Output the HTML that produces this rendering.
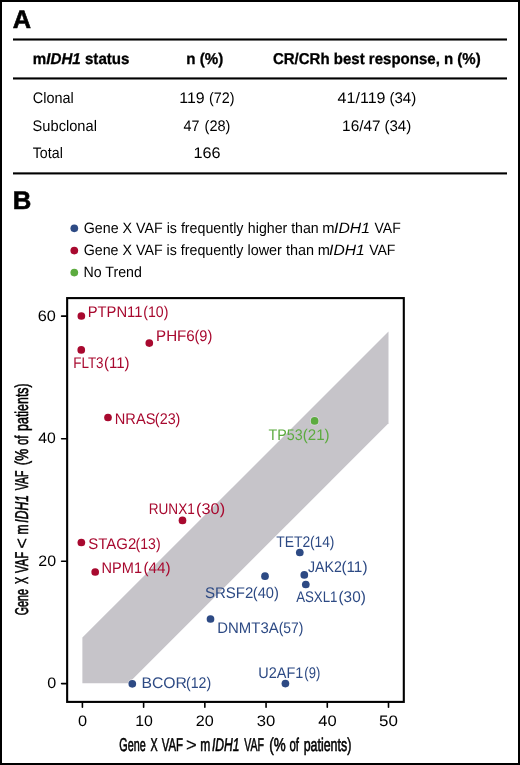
<!DOCTYPE html><html><head><meta charset="utf-8"><style>html,body{margin:0;padding:0;background:#fff}svg{display:block;will-change:transform}text{font-family:"Liberation Sans",sans-serif;text-rendering:geometricPrecision}</style></head><body>
<svg width="520" height="765" viewBox="0 0 520 765">
<rect x="0" y="0" width="520" height="765" fill="#fff"/>
<rect x="1" y="1" width="518" height="763" fill="none" stroke="#000" stroke-width="2"/>
<rect x="13" y="38.45" width="494" height="2.1" fill="#000"/>
<rect x="13" y="77.40" width="494" height="2.1" fill="#000"/>
<rect x="13" y="172.35" width="494" height="2.1" fill="#000"/>
<polygon points="82.4,683.3 82.4,637.5 388.5,331.5 388.5,423.3 128.5,683.3" fill="#c6c4c9"/>
<rect x="67.15" y="298.1" width="336.65" height="403.8" fill="none" stroke="#000" stroke-width="2.1"/>
<line x1="61.6" y1="316.15" x2="66.5" y2="316.15" stroke="#000" stroke-width="1.6" stroke-linecap="round"/>
<line x1="61.6" y1="438.7" x2="66.5" y2="438.7" stroke="#000" stroke-width="1.6" stroke-linecap="round"/>
<line x1="61.6" y1="561.2" x2="66.5" y2="561.2" stroke="#000" stroke-width="1.6" stroke-linecap="round"/>
<line x1="61.6" y1="683.6" x2="66.5" y2="683.6" stroke="#000" stroke-width="1.6" stroke-linecap="round"/>
<line x1="82.40" y1="703" x2="82.40" y2="707.2" stroke="#000" stroke-width="1.6" stroke-linecap="round"/>
<line x1="143.62" y1="703" x2="143.62" y2="707.2" stroke="#000" stroke-width="1.6" stroke-linecap="round"/>
<line x1="204.84" y1="703" x2="204.84" y2="707.2" stroke="#000" stroke-width="1.6" stroke-linecap="round"/>
<line x1="266.06" y1="703" x2="266.06" y2="707.2" stroke="#000" stroke-width="1.6" stroke-linecap="round"/>
<line x1="327.28" y1="703" x2="327.28" y2="707.2" stroke="#000" stroke-width="1.6" stroke-linecap="round"/>
<line x1="388.50" y1="703" x2="388.50" y2="707.2" stroke="#000" stroke-width="1.6" stroke-linecap="round"/>
<circle cx="81.35" cy="316.0" r="4.7" fill="#fff" fill-opacity="0.4"/><circle cx="81.35" cy="316.0" r="3.85" fill="#a8092f"/>
<circle cx="81.25" cy="349.9" r="4.7" fill="#fff" fill-opacity="0.4"/><circle cx="81.25" cy="349.9" r="3.85" fill="#a8092f"/>
<circle cx="149.3" cy="343.1" r="4.7" fill="#fff" fill-opacity="0.4"/><circle cx="149.3" cy="343.1" r="3.85" fill="#a8092f"/>
<circle cx="108.0" cy="417.5" r="4.7" fill="#fff" fill-opacity="0.4"/><circle cx="108.0" cy="417.5" r="3.85" fill="#a8092f"/>
<circle cx="314.6" cy="420.9" r="4.7" fill="#fff" fill-opacity="0.4"/><circle cx="314.6" cy="420.9" r="3.85" fill="#5cab3f"/>
<circle cx="182.5" cy="520.4" r="4.7" fill="#fff" fill-opacity="0.4"/><circle cx="182.5" cy="520.4" r="3.85" fill="#a8092f"/>
<circle cx="81.35" cy="542.5" r="4.7" fill="#fff" fill-opacity="0.4"/><circle cx="81.35" cy="542.5" r="3.85" fill="#a8092f"/>
<circle cx="95.2" cy="572.0" r="4.7" fill="#fff" fill-opacity="0.4"/><circle cx="95.2" cy="572.0" r="3.85" fill="#a8092f"/>
<circle cx="299.8" cy="552.5" r="4.7" fill="#fff" fill-opacity="0.4"/><circle cx="299.8" cy="552.5" r="3.85" fill="#2d4a84"/>
<circle cx="304.3" cy="574.9" r="4.7" fill="#fff" fill-opacity="0.4"/><circle cx="304.3" cy="574.9" r="3.85" fill="#2d4a84"/>
<circle cx="305.8" cy="584.5" r="4.7" fill="#fff" fill-opacity="0.4"/><circle cx="305.8" cy="584.5" r="3.85" fill="#2d4a84"/>
<circle cx="265.0" cy="576.2" r="4.7" fill="#fff" fill-opacity="0.4"/><circle cx="265.0" cy="576.2" r="3.85" fill="#2d4a84"/>
<circle cx="210.5" cy="619.0" r="4.7" fill="#fff" fill-opacity="0.4"/><circle cx="210.5" cy="619.0" r="3.85" fill="#2d4a84"/>
<circle cx="285.4" cy="683.6" r="4.7" fill="#fff" fill-opacity="0.4"/><circle cx="285.4" cy="683.6" r="3.85" fill="#2d4a84"/>
<circle cx="132.3" cy="683.8" r="4.7" fill="#fff" fill-opacity="0.4"/><circle cx="132.3" cy="683.8" r="3.85" fill="#2d4a84"/>
<circle cx="74.3" cy="228.3" r="3.85" fill="#2d4a84"/>
<circle cx="74.3" cy="250.6" r="3.85" fill="#a8092f"/>
<circle cx="74.3" cy="272.6" r="3.85" fill="#5cab3f"/>
<text x="12.85" y="27.80" font-size="25.4" font-weight="700" fill="#000" textLength="18.29" lengthAdjust="spacingAndGlyphs" stroke="#000" stroke-width="0.6">A</text>
<text x="12.88" y="208.90" font-size="25.4" font-weight="700" fill="#000" textLength="18.57" lengthAdjust="spacingAndGlyphs" stroke="#000" stroke-width="0.6">B</text>
<text x="32.84" y="63.80" font-size="15.7" font-weight="700" fill="#000" textLength="96.68" lengthAdjust="spacingAndGlyphs" stroke="#000" stroke-width="0.3">m<tspan font-style="italic">IDH1</tspan> status</text>
<text x="186.34" y="63.80" font-size="15.7" font-weight="700" fill="#000" textLength="36.94" lengthAdjust="spacingAndGlyphs" stroke="#000" stroke-width="0.3">n (%)</text>
<text x="272.92" y="63.80" font-size="15.7" font-weight="700" fill="#000" textLength="207.80" lengthAdjust="spacingAndGlyphs" stroke="#000" stroke-width="0.3">CR/CRh best response, n (%)</text>
<text x="32.79" y="103.20" font-size="15.3" font-weight="400" fill="#000" textLength="40.97" lengthAdjust="spacingAndGlyphs" >Clonal</text>
<text x="32.58" y="130.80" font-size="15.3" font-weight="400" fill="#000" textLength="64.32" lengthAdjust="spacingAndGlyphs" >Subclonal</text>
<text x="32.77" y="158.20" font-size="15.3" font-weight="400" fill="#000" textLength="30.02" lengthAdjust="spacingAndGlyphs" >Total</text>
<text x="179.30" y="102.90" font-size="15.3" font-weight="400" fill="#000" textLength="25.37" lengthAdjust="spacingAndGlyphs" >119</text>
<text x="208.96" y="102.90" font-size="15.3" font-weight="400" fill="#000" textLength="25.53" lengthAdjust="spacingAndGlyphs" >(72)</text>
<text x="183.57" y="130.60" font-size="15.3" font-weight="400" fill="#000" textLength="15.95" lengthAdjust="spacingAndGlyphs" >47</text>
<text x="204.55" y="130.60" font-size="15.3" font-weight="400" fill="#000" textLength="25.86" lengthAdjust="spacingAndGlyphs" >(28)</text>
<text x="193.58" y="158.30" font-size="15.3" font-weight="400" fill="#000" textLength="27.05" lengthAdjust="spacingAndGlyphs" >166</text>
<text x="337.64" y="102.80" font-size="15.3" font-weight="400" fill="#000" textLength="47.85" lengthAdjust="spacingAndGlyphs" >41/119</text>
<text x="389.41" y="102.80" font-size="15.3" font-weight="400" fill="#000" textLength="26.83" lengthAdjust="spacingAndGlyphs" >(34)</text>
<text x="342.14" y="130.70" font-size="15.3" font-weight="400" fill="#000" textLength="38.44" lengthAdjust="spacingAndGlyphs" >16/47</text>
<text x="384.41" y="130.70" font-size="15.3" font-weight="400" fill="#000" textLength="26.83" lengthAdjust="spacingAndGlyphs" >(34)</text>
<text x="83.79" y="232.90" font-size="15.0" font-weight="400" fill="#000" textLength="159.65" lengthAdjust="spacingAndGlyphs" >Gene X VAF is frequently</text>
<text x="247.86" y="232.90" font-size="15.0" font-weight="400" fill="#000" textLength="70.85" lengthAdjust="spacingAndGlyphs" >higher than</text>
<text x="322.32" y="232.90" font-size="15.0" font-weight="400" fill="#000" textLength="12.26" lengthAdjust="spacingAndGlyphs" >m</text>
<text x="334.07" y="232.90" font-size="15.0" font-weight="400" fill="#000" textLength="35.94" lengthAdjust="spacingAndGlyphs" ><tspan font-style="italic">IDH1</tspan></text>
<text x="374.47" y="232.90" font-size="15.0" font-weight="400" fill="#000" textLength="26.26" lengthAdjust="spacingAndGlyphs" >VAF</text>
<text x="83.69" y="254.90" font-size="15.0" font-weight="400" fill="#000" textLength="159.65" lengthAdjust="spacingAndGlyphs" >Gene X VAF is frequently</text>
<text x="247.44" y="254.90" font-size="15.0" font-weight="400" fill="#000" textLength="66.59" lengthAdjust="spacingAndGlyphs" >lower than</text>
<text x="317.83" y="254.90" font-size="15.0" font-weight="400" fill="#000" textLength="12.14" lengthAdjust="spacingAndGlyphs" >m</text>
<text x="329.08" y="254.90" font-size="15.0" font-weight="400" fill="#000" textLength="35.62" lengthAdjust="spacingAndGlyphs" ><tspan font-style="italic">IDH1</tspan></text>
<text x="369.17" y="254.90" font-size="15.0" font-weight="400" fill="#000" textLength="26.26" lengthAdjust="spacingAndGlyphs" >VAF</text>
<text x="83.52" y="277.25" font-size="15.0" font-weight="400" fill="#000" textLength="58.38" lengthAdjust="spacingAndGlyphs" >No Trend</text>
<text x="87.70" y="316.50" font-size="15.4" font-weight="400" fill="#a8092f" textLength="54.75" lengthAdjust="spacingAndGlyphs" >PTPN11</text>
<text x="143.28" y="316.50" font-size="15.4" font-weight="400" fill="#a8092f" textLength="25.12" lengthAdjust="spacingAndGlyphs" >(10)</text>
<text x="156.07" y="341.00" font-size="15.4" font-weight="400" fill="#a8092f" textLength="38.71" lengthAdjust="spacingAndGlyphs" >PHF6</text>
<text x="194.45" y="341.00" font-size="15.4" font-weight="400" fill="#a8092f" textLength="17.86" lengthAdjust="spacingAndGlyphs" >(9)</text>
<text x="73.21" y="368.20" font-size="15.4" font-weight="400" fill="#a8092f" textLength="30.35" lengthAdjust="spacingAndGlyphs" >FLT3</text>
<text x="103.93" y="368.20" font-size="15.4" font-weight="400" fill="#a8092f" textLength="25.53" lengthAdjust="spacingAndGlyphs" >(11)</text>
<text x="114.81" y="423.70" font-size="15.4" font-weight="400" fill="#a8092f" textLength="40.61" lengthAdjust="spacingAndGlyphs" >NRAS</text>
<text x="154.87" y="423.70" font-size="15.4" font-weight="400" fill="#a8092f" textLength="25.55" lengthAdjust="spacingAndGlyphs" >(23)</text>
<text x="268.57" y="439.60" font-size="15.4" font-weight="400" fill="#5cab3f" textLength="34.14" lengthAdjust="spacingAndGlyphs" >TP53</text>
<text x="302.82" y="439.60" font-size="15.4" font-weight="400" fill="#5cab3f" textLength="26.84" lengthAdjust="spacingAndGlyphs" >(21)</text>
<text x="148.70" y="514.40" font-size="15.4" font-weight="400" fill="#a8092f" textLength="46.10" lengthAdjust="spacingAndGlyphs" >RUNX1</text>
<text x="196.14" y="514.40" font-size="15.4" font-weight="400" fill="#a8092f" textLength="28.99" lengthAdjust="spacingAndGlyphs" >(30)</text>
<text x="88.37" y="548.90" font-size="15.4" font-weight="400" fill="#a8092f" textLength="47.93" lengthAdjust="spacingAndGlyphs" >STAG2</text>
<text x="135.59" y="548.90" font-size="15.4" font-weight="400" fill="#a8092f" textLength="25.01" lengthAdjust="spacingAndGlyphs" >(13)</text>
<text x="101.62" y="573.40" font-size="15.4" font-weight="400" fill="#a8092f" textLength="40.40" lengthAdjust="spacingAndGlyphs" >NPM1</text>
<text x="143.41" y="573.40" font-size="15.4" font-weight="400" fill="#a8092f" textLength="27.16" lengthAdjust="spacingAndGlyphs" >(44)</text>
<text x="276.27" y="546.80" font-size="15.4" font-weight="400" fill="#2d4a84" textLength="34.03" lengthAdjust="spacingAndGlyphs" >TET2</text>
<text x="309.91" y="546.80" font-size="15.4" font-weight="400" fill="#2d4a84" textLength="24.48" lengthAdjust="spacingAndGlyphs" >(14)</text>
<text x="307.97" y="571.50" font-size="15.4" font-weight="400" fill="#2d4a84" textLength="33.97" lengthAdjust="spacingAndGlyphs" >JAK2</text>
<text x="341.41" y="571.50" font-size="15.4" font-weight="400" fill="#2d4a84" textLength="26.07" lengthAdjust="spacingAndGlyphs" >(11)</text>
<text x="296.20" y="602.30" font-size="15.4" font-weight="400" fill="#2d4a84" textLength="41.28" lengthAdjust="spacingAndGlyphs" >ASXL1</text>
<text x="338.50" y="602.30" font-size="15.4" font-weight="400" fill="#2d4a84" textLength="27.27" lengthAdjust="spacingAndGlyphs" >(30)</text>
<text x="204.97" y="597.90" font-size="15.4" font-weight="400" fill="#2d4a84" textLength="48.37" lengthAdjust="spacingAndGlyphs" >SRSF2</text>
<text x="252.75" y="597.90" font-size="15.4" font-weight="400" fill="#2d4a84" textLength="26.09" lengthAdjust="spacingAndGlyphs" >(40)</text>
<text x="217.29" y="632.90" font-size="15.4" font-weight="400" fill="#2d4a84" textLength="61.44" lengthAdjust="spacingAndGlyphs" >DNMT3A</text>
<text x="278.70" y="632.90" font-size="15.4" font-weight="400" fill="#2d4a84" textLength="24.69" lengthAdjust="spacingAndGlyphs" >(57)</text>
<text x="258.33" y="677.50" font-size="15.4" font-weight="400" fill="#2d4a84" textLength="44.99" lengthAdjust="spacingAndGlyphs" >U2AF1</text>
<text x="304.35" y="677.50" font-size="15.4" font-weight="400" fill="#2d4a84" textLength="15.95" lengthAdjust="spacingAndGlyphs" >(9)</text>
<text x="141.52" y="687.50" font-size="15.4" font-weight="400" fill="#2d4a84" textLength="45.41" lengthAdjust="spacingAndGlyphs" >BCOR</text>
<text x="185.98" y="687.50" font-size="15.4" font-weight="400" fill="#2d4a84" textLength="25.23" lengthAdjust="spacingAndGlyphs" >(12)</text>
<text x="37.80" y="320.50" font-size="15.2" font-weight="400" fill="#000" textLength="18.11" lengthAdjust="spacingAndGlyphs" >60</text>
<text x="38.34" y="443.20" font-size="15.2" font-weight="400" fill="#000" textLength="17.54" lengthAdjust="spacingAndGlyphs" >40</text>
<text x="38.31" y="565.50" font-size="15.2" font-weight="400" fill="#000" textLength="17.78" lengthAdjust="spacingAndGlyphs" >20</text>
<text x="47.17" y="687.90" font-size="15.2" font-weight="400" fill="#000" textLength="8.98" lengthAdjust="spacingAndGlyphs" >0</text>
<text x="77.96" y="725.80" font-size="15.2" font-weight="400" fill="#000" textLength="9.09" lengthAdjust="spacingAndGlyphs" >0</text>
<text x="135.19" y="725.80" font-size="15.2" font-weight="400" fill="#000" textLength="17.70" lengthAdjust="spacingAndGlyphs" >10</text>
<text x="195.80" y="725.80" font-size="15.2" font-weight="400" fill="#000" textLength="18.00" lengthAdjust="spacingAndGlyphs" >20</text>
<text x="256.65" y="725.80" font-size="15.2" font-weight="400" fill="#000" textLength="18.57" lengthAdjust="spacingAndGlyphs" >30</text>
<text x="318.33" y="725.80" font-size="15.2" font-weight="400" fill="#000" textLength="18.39" lengthAdjust="spacingAndGlyphs" >40</text>
<text x="378.96" y="725.80" font-size="15.2" font-weight="400" fill="#000" textLength="18.87" lengthAdjust="spacingAndGlyphs" >50</text>
<text x="119.31" y="750.80" font-size="18.5" font-weight="400" fill="#000" textLength="26.39" lengthAdjust="spacingAndGlyphs" stroke="#000" stroke-width="0.6">Gene</text>
<text x="150.50" y="750.80" font-size="18.5" font-weight="400" fill="#000" textLength="7.11" lengthAdjust="spacingAndGlyphs" stroke="#000" stroke-width="0.6">X</text>
<text x="161.65" y="750.80" font-size="18.5" font-weight="400" fill="#000" textLength="21.27" lengthAdjust="spacingAndGlyphs" stroke="#000" stroke-width="0.6">VAF</text>
<text x="185.95" y="750.80" font-size="18.5" font-weight="400" fill="#000" textLength="10.75" lengthAdjust="spacingAndGlyphs" stroke="#000" stroke-width="0.15">&gt;</text>
<text x="200.15" y="750.80" font-size="18.5" font-weight="400" fill="#000" textLength="10.05" lengthAdjust="spacingAndGlyphs" stroke="#000" stroke-width="0.6">m</text>
<text x="211.97" y="750.80" font-size="18.5" font-weight="400" fill="#000" textLength="27.58" lengthAdjust="spacingAndGlyphs" stroke="#000" stroke-width="0.6"><tspan font-style="italic">IDH1</tspan></text>
<text x="244.34" y="750.80" font-size="18.5" font-weight="400" fill="#000" textLength="19.66" lengthAdjust="spacingAndGlyphs" stroke="#000" stroke-width="0.6">VAF</text>
<text x="269.26" y="750.80" font-size="18.5" font-weight="400" fill="#000" textLength="16.42" lengthAdjust="spacingAndGlyphs" stroke="#000" stroke-width="0.6">(%</text>
<text x="289.49" y="750.80" font-size="18.5" font-weight="400" fill="#000" textLength="9.52" lengthAdjust="spacingAndGlyphs" stroke="#000" stroke-width="0.6">of</text>
<text x="303.70" y="750.80" font-size="18.5" font-weight="400" fill="#000" textLength="47.58" lengthAdjust="spacingAndGlyphs" stroke="#000" stroke-width="0.6">patients)</text>
<text transform="translate(28.00,615.00) rotate(-90)" x="-0.29" y="0" font-size="18.5" font-weight="400" fill="#000" textLength="26.39" lengthAdjust="spacingAndGlyphs" stroke="#000" stroke-width="0.6">Gene</text>
<text transform="translate(28.00,584.10) rotate(-90)" x="-0.00" y="0" font-size="18.5" font-weight="400" fill="#000" textLength="7.11" lengthAdjust="spacingAndGlyphs" stroke="#000" stroke-width="0.6">X</text>
<text transform="translate(28.00,573.10) rotate(-90)" x="0.15" y="0" font-size="18.5" font-weight="400" fill="#000" textLength="21.27" lengthAdjust="spacingAndGlyphs" stroke="#000" stroke-width="0.6">VAF</text>
<text transform="translate(28.00,547.90) rotate(-90)" x="-0.75" y="0" font-size="18.5" font-weight="400" fill="#000" textLength="10.75" lengthAdjust="spacingAndGlyphs" stroke="#000" stroke-width="0.15">&lt;</text>
<text transform="translate(28.00,533.80) rotate(-90)" x="-0.65" y="0" font-size="18.5" font-weight="400" fill="#000" textLength="10.05" lengthAdjust="spacingAndGlyphs" stroke="#000" stroke-width="0.6">m</text>
<text transform="translate(28.00,522.30) rotate(-90)" x="-0.33" y="0" font-size="18.5" font-weight="400" fill="#000" textLength="27.58" lengthAdjust="spacingAndGlyphs" stroke="#000" stroke-width="0.6"><tspan font-style="italic">IDH1</tspan></text>
<text transform="translate(28.00,490.40) rotate(-90)" x="0.14" y="0" font-size="18.5" font-weight="400" fill="#000" textLength="19.66" lengthAdjust="spacingAndGlyphs" stroke="#000" stroke-width="0.6">VAF</text>
<text transform="translate(28.00,464.80) rotate(-90)" x="-0.54" y="0" font-size="18.5" font-weight="400" fill="#000" textLength="16.42" lengthAdjust="spacingAndGlyphs" stroke="#000" stroke-width="0.6">(%</text>
<text transform="translate(28.00,444.80) rotate(-90)" x="-0.31" y="0" font-size="18.5" font-weight="400" fill="#000" textLength="9.52" lengthAdjust="spacingAndGlyphs" stroke="#000" stroke-width="0.6">of</text>
<text transform="translate(28.00,430.40) rotate(-90)" x="-0.50" y="0" font-size="18.5" font-weight="400" fill="#000" textLength="47.58" lengthAdjust="spacingAndGlyphs" stroke="#000" stroke-width="0.6">patients)</text>
</svg></body></html>
